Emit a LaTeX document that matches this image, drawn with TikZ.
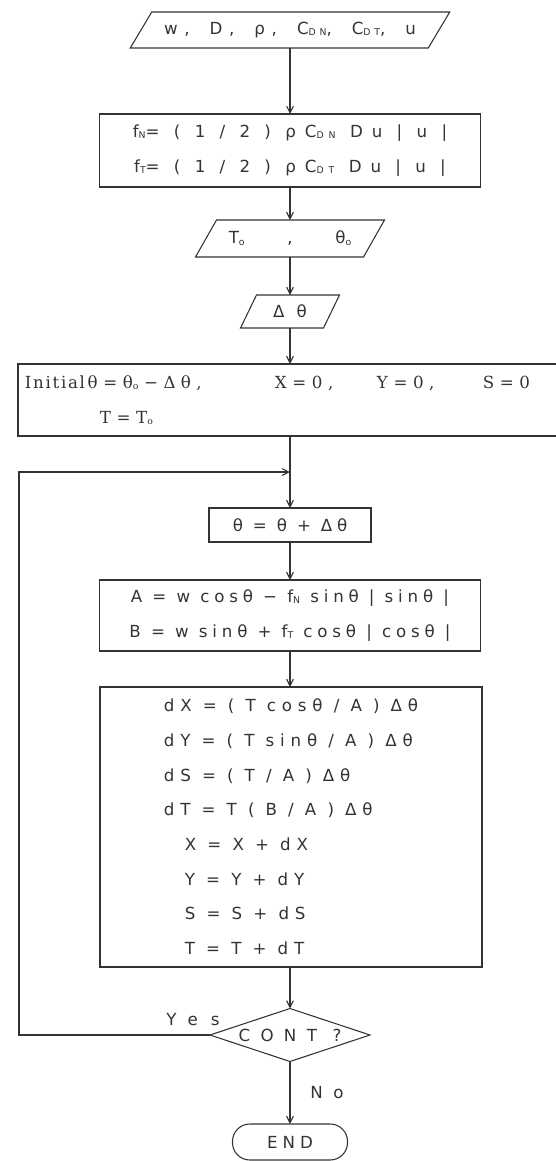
\documentclass[tikz,border=0pt]{standalone}
\usepackage{fontspec}
\setmainfont{DejaVu Sans}
\newfontfamily\serif{DejaVu Serif}
\usetikzlibrary{shapes.geometric,arrows.meta,calc}
\definecolor{ink}{HTML}{333333}
\newcommand{\lo}[1]{\raisebox{-0.15ex}{\fontsize{7}{8}\selectfont #1}}
\newcommand{\ls}[1]{\addfontfeatures{LetterSpace=#1}}
\newcommand{\paraline}[2]{\draw[ln] ($(#1.north west)+(#2,0)$) -- ($(#1.north east)+(#2,0)$) -- ($(#1.south east)+(-#2,0)$) -- ($(#1.south west)+(-#2,0)$) -- cycle;}
\begin{document}
\begin{tikzpicture}[x=0.75pt,y=-0.75pt,
  ln/.style={draw=ink,line width=0.8pt},
  arr/.style={ln,-{Straight Barb[length=5pt,width=5pt]}},
  base/.style={inner sep=0pt,outer sep=0pt,text=ink,font=\fontsize{12.5}{26}\selectfont,align=center},
  proc/.style={base,ln,rectangle},
  io/.style={base,rectangle},
  dec/.style={base,ln,diamond,shape aspect=3},
  term/.style={base,ln,rectangle,rounded corners=13pt},
  lbl/.style={text=ink,font=\fontsize{12.5}{14}\selectfont,inner sep=0pt}]
\useasboundingbox (0,0) rectangle (556,1161);

\node[io,minimum width=223.5pt,minimum height=27pt] (in1) at (290,30)
  {\ls{40}w,\hspace{15pt}D,\hspace{15pt}ρ,\hspace{15pt}C\lo{DN},\hspace{15pt}C\lo{DT},\hspace{15pt}u};
\paraline{in1}{10.75}

\node[proc,minimum width=285.75pt,minimum height=54.75pt] (fb) at (290,150.5)
  {\ls{54}f\lo{N}= ( 1 / 2 ) ρC\lo{DN} Du | u |\\
   \ls{54}f\lo{T}= ( 1 / 2 ) ρC\lo{DT} Du | u |};

\node[io,minimum width=126pt,minimum height=27.75pt] (in2) at (290,238.5) {T\lo{o}\hspace{32pt},\hspace{32pt}θ\lo{o}};
\paraline{in2}{10.5}

\node[io,minimum width=62.25pt,minimum height=24.75pt] (in3) at (290,311.5) {\ls{40}Δ\hspace{9pt}θ};
\paraline{in3}{8}

\node[base,minimum width=403.5pt,minimum height=54pt,text width=393pt,align=left] (init) at (287,400)
  {\serif\ls{31}\makebox[187.5pt][l]{{\ls{10}Initial}\,θ = θ\lo{o} − Δθ ,}\makebox[76.5pt][l]{X = 0 ,}\makebox[79.5pt][l]{Y = 0 ,}S = 0\\
   \serif\ls{31}\hspace*{56.25pt}T = T\lo{o}};
\draw[ln] (init.north east) -- (init.north west) -- (init.south west) -- (init.south east);

\node[proc,minimum width=121.5pt,minimum height=25.5pt] (th) at (290,525) {\ls{28}θ = θ + Δθ};

\node[proc,minimum width=285.75pt,minimum height=53.25pt] (ab) at (290,615.5)
  {\ls{29}A = w\ cosθ − f\lo{N} sinθ | sinθ |\\
   \ls{29}B = w\ sinθ + f\lo{T} cosθ | cosθ |};

\node[proc,minimum width=286.5pt,minimum height=210pt,align=left] (big) at (291,827)
  {\ls{35}dX = ( T cosθ / A ) Δθ\\
   \ls{35}dY = ( T sinθ / A ) Δθ\\
   \ls{35}dS = ( T / A ) Δθ\\
   \ls{35}dT = T ( B / A ) Δθ\\
   \ls{35}\hspace*{15.75pt}X = X + dX\\
   \ls{35}\hspace*{15.75pt}Y = Y + dY\\
   \ls{35}\hspace*{15.75pt}S = S + dS\\
   \ls{35}\hspace*{15.75pt}T = T + dT};

\node[dec,minimum width=120pt,minimum height=39.75pt] (cont) at (290,1035) {\ls{62}CONT ?};
\node[term,minimum width=86.25pt,minimum height=27pt] (endn) at (290,1142) {\ls{30}END};

\draw[arr] (in1.south) -- (in1.south |- fb.north);
\draw[arr] (fb.south) -- (fb.south |- in2.north);
\draw[arr] (in2.south) -- (in2.south |- in3.north);
\draw[arr] (in3.south) -- (in3.south |- init.north);
\draw[arr] (th.north |- init.south) -- (th.north);
\coordinate (j) at (290,472);
\coordinate (lp) at (19,472);
\draw[arr] (cont.west) -| (lp) -- (j);
\draw[arr] (th.south) -- (th.south |- ab.north);
\draw[arr] (ab.south) -- (ab.south |- big.north);
\draw[arr] (big.south -| cont.north) -- (cont.north);
\draw[arr] (cont.south) -- (cont.south |- endn.north);

\node[lbl] (yes) at (193,1020) {\ls{79}Yes};
\node[lbl] (no) at (327,1093) {\ls{64}No};
\end{tikzpicture}
\end{document}
